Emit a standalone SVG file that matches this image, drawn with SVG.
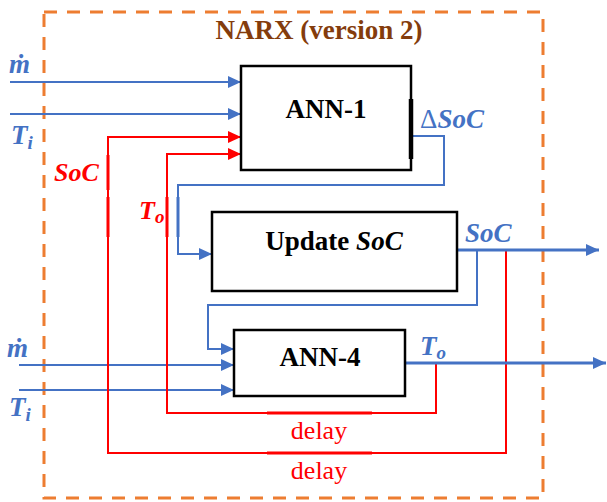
<svg xmlns="http://www.w3.org/2000/svg" width="607" height="502" viewBox="0 0 607 502">
<defs>
<style>
text{font-family:"Liberation Serif","Times New Roman",serif;}
.box{fill:#fff;stroke:#000;stroke-width:2.5;}
.lbl{font-weight:bold;font-size:27px;fill:#000;text-anchor:middle;}
.bl{fill:none;stroke:#4472c4;stroke-width:2;}
.blt{fill:none;stroke:#4472c4;stroke-width:3;}
.rd{fill:none;stroke:#ff0000;stroke-width:2;}
.rdt{fill:none;stroke:#ff0000;stroke-width:3;}
.bt{font-style:italic;font-weight:bold;font-size:27px;fill:#4472c4;}
.rt{font-style:italic;font-weight:bold;font-size:26px;fill:#ff0000;}
.dl{font-size:26px;fill:#ff0000;text-anchor:middle;}
</style>
<marker id="ab" markerUnits="userSpaceOnUse" markerWidth="14" markerHeight="12" refX="13" refY="6" orient="auto"><path d="M0,0 L13,6 L0,12 z" fill="#4472c4"/></marker>
<marker id="ar" markerUnits="userSpaceOnUse" markerWidth="14" markerHeight="12" refX="13" refY="6" orient="auto"><path d="M0,0 L13,6 L0,12 z" fill="#ff0000"/></marker>
</defs>
<rect id="frame" x="44" y="12" width="499" height="486" fill="none" stroke="#ed7d31" stroke-width="3" stroke-dasharray="13 10"/>
<text x="319" y="39" font-size="27" font-weight="bold" fill="#843c0c" text-anchor="middle">NARX (version 2)</text>
<g id="connectors">
<path class="bl" d="M10,82 H241" marker-end="url(#ab)"/>
<path class="bl" d="M10,114 H241" marker-end="url(#ab)"/>
<path class="bl" d="M19,365 H234" marker-end="url(#ab)"/>
<path class="bl" d="M19,390 H234" marker-end="url(#ab)"/>
<path class="rd" d="M506,250 V453 H108 V137 H241" marker-end="url(#ar)"/>
<path class="rd" d="M436,363 V413 H167 V154 H241" marker-end="url(#ar)"/>
<path class="rdt" d="M108,155 V190 M108,197 V237 M167,197 V237 M267,413 H372 M267,453 H372"/>
<path class="bl" d="M411,136 H444 V185 H178 V254 H212" marker-end="url(#ab)"/>
<path class="blt" d="M178,197 V237"/>
<path class="bl" d="M477,250 V305 H208 V349 H234" marker-end="url(#ab)"/>
<path class="blt" d="M457,250 H599" marker-end="url(#ab)"/>
<path class="blt" d="M405,363 H606" marker-end="url(#ab)"/>
</g>
<g id="ann1">
<rect class="box" x="241" y="66" width="170" height="104"/>
<path d="M411,99 V159" stroke="#000" stroke-width="4.5"/>
<text class="lbl" x="326" y="118">ANN-1</text>
</g>
<g id="update">
<rect class="box" x="212" y="212" width="245" height="79"/>
<text class="lbl" x="334" y="250">Update <tspan font-style="italic">SoC</tspan></text>
</g>
<g id="ann4">
<rect class="box" x="234" y="330" width="171" height="66"/>
<text class="lbl" x="320" y="366">ANN-4</text>
</g>
<g id="labels">
<text class="bt" x="9" y="73" font-size="29">ṁ</text>
<text class="bt" x="11" y="144">T<tspan font-size="19" dy="5">i</tspan></text>
<text class="bt" x="7" y="357" font-size="29">ṁ</text>
<text class="bt" x="9" y="416">T<tspan font-size="19" dy="5">i</tspan></text>
<text class="bt" x="420" y="128"><tspan font-style="normal" font-weight="normal">Δ</tspan>SoC</text>
<text class="bt" x="465" y="242">SoC</text>
<text class="bt" x="420" y="355">T<tspan font-size="19" dy="4">o</tspan></text>
<text class="rt" x="54" y="181">SoC</text>
<text class="rt" x="139" y="219">T<tspan font-size="19" dy="4">o</tspan></text>
<text class="dl" x="319" y="439">delay</text>
<text class="dl" x="319" y="479">delay</text>
</g>
</svg>
